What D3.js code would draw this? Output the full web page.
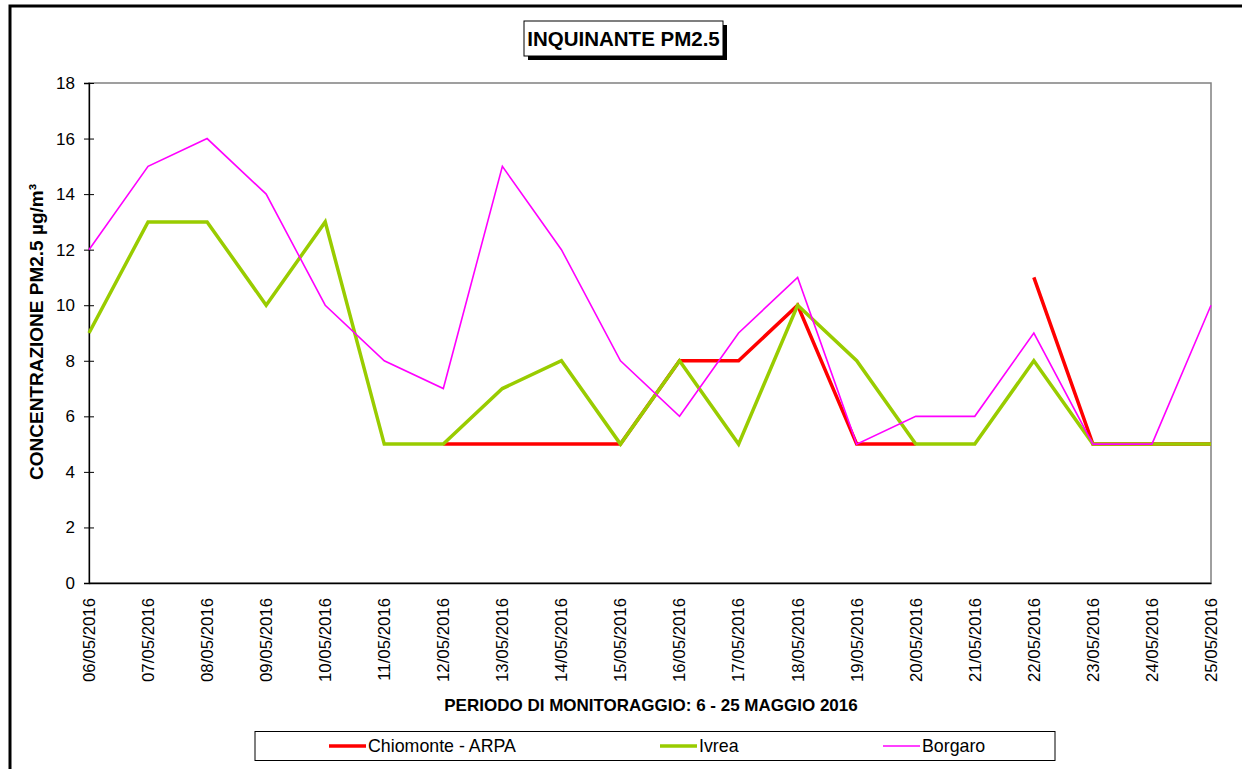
<!DOCTYPE html>
<html>
<head>
<meta charset="utf-8">
<script src="https://cdn.jsdelivr.net/npm/d3@7"></script>
<style>
  html, body { margin: 0; padding: 0; background: #fff; }
  svg { display: block; font-family: "Liberation Sans", Arial, sans-serif; }
</style>
</head>
<body>
<svg id="chart" width="1242" height="769"></svg>
<script>
const dates = ["06/05/2016","07/05/2016","08/05/2016","09/05/2016","10/05/2016","11/05/2016","12/05/2016","13/05/2016","14/05/2016","15/05/2016","16/05/2016","17/05/2016","18/05/2016","19/05/2016","20/05/2016","21/05/2016","22/05/2016","23/05/2016","24/05/2016","25/05/2016"];
const chiomonte = [null,null,null,null,null,null,5,5,5,5,8,8,10,5,5,null,11,5,5,5];
const ivrea     = [9,13,13,10,13,5,5,7,8,5,8,5,10,8,5,5,8,5,5,5];
const borgaro   = [12,15,16,14,10,8,7,15,12,8,6,9,11,5,6,6,9,5,5,10];
const yTicks = [0,2,4,6,8,10,12,14,16,18];
const seriesNames = ["Chiomonte - ARPA","Ivrea","Borgaro"];
const seriesColors = ["#FF0000","#99CC00","#FF00FF"];
const seriesWidths = [3.5,3.5,1.6];
const seriesData = [chiomonte, ivrea, borgaro];

const svg = d3.select("#chart");

// outer frame (partial, cut by image edge)
svg.append("path").attr("d","M10,780 L10,6 L1250,6").attr("fill","none").attr("stroke","#000").attr("stroke-width",3);

const x = d3.scalePoint().domain(dates).range([89,1211]);
const y = d3.scaleLinear().domain([0,18]).range([583,83]);

// plot area border
svg.append("rect").attr("x",89).attr("y",83).attr("width",1122).attr("height",500)
  .attr("fill","none").attr("stroke","#808080").attr("stroke-width",1.5);

// y axis
const yAxis = svg.append("g").attr("transform","translate(89,0)")
  .call(d3.axisLeft(y).tickValues(yTicks).tickSize(5).tickPadding(9));
yAxis.select(".domain").attr("stroke","#000").attr("stroke-width",1.3);
yAxis.selectAll(".tick line").attr("x2",-5).attr("x1",5).attr("stroke","#000");
yAxis.selectAll(".tick text").attr("font-size",17).attr("fill","#000").attr("font-family","Liberation Sans, Arial, sans-serif");

// x axis
const xAxis = svg.append("g").attr("transform","translate(0,583)")
  .call(d3.axisBottom(x).tickSize(0).tickFormat(""));
xAxis.select(".domain").attr("stroke","#000").attr("stroke-width",1.3);
svg.append("g").selectAll("text").data(dates).join("text")
  .attr("transform", d => `translate(${x(d)},598) rotate(-90)`)
  .attr("text-anchor","end").attr("dy","0.35em")
  .attr("font-size",16.8).attr("fill","#000").text(d => d);

// lines
const line = d3.line().defined(d => d.v !== null).x(d => x(d.d)).y(d => y(d.v));
seriesData.forEach((s,i) => {
  svg.append("path")
    .datum(s.map((v,j) => ({d: dates[j], v})))
    .attr("fill","none").attr("stroke",seriesColors[i]).attr("stroke-width",seriesWidths[i])
    .attr("stroke-linejoin","miter").attr("d", line);
});

// title box
svg.append("rect").attr("x",528).attr("y",25).attr("width",199).attr("height",35).attr("fill","#000");
svg.append("rect").attr("x",524).attr("y",21).attr("width",199).attr("height",35).attr("fill","#fff").attr("stroke","#000").attr("stroke-width",1);
svg.append("text").attr("x",623.5).attr("y",46).attr("text-anchor","middle")
  .attr("font-size",20.5).attr("font-weight","bold").text("INQUINANTE PM2.5");

// axis titles
svg.append("text").attr("transform","translate(43,332) rotate(-90)").attr("text-anchor","middle")
  .attr("font-size",19).attr("font-weight","bold").text("CONCENTRAZIONE PM2.5 µg/m³");
svg.append("text").attr("x",651).attr("y",711).attr("text-anchor","middle")
  .attr("font-size",17).attr("font-weight","bold").text("PERIODO DI MONITORAGGIO: 6 - 25 MAGGIO 2016");

// legend
svg.append("rect").attr("x",255).attr("y",731.5).attr("width",800).attr("height",29)
  .attr("fill","#fff").attr("stroke","#000").attr("stroke-width",1);
const legX = [329,660,883];
seriesNames.forEach((n,i) => {
  svg.append("line").attr("x1",legX[i]).attr("x2",legX[i]+37).attr("y1",746).attr("y2",746)
    .attr("stroke",seriesColors[i]).attr("stroke-width",seriesWidths[i]);
  svg.append("text").attr("x",legX[i]+39).attr("y",752).attr("font-size",17.8).text(n);
});
</script>
</body>
</html>
